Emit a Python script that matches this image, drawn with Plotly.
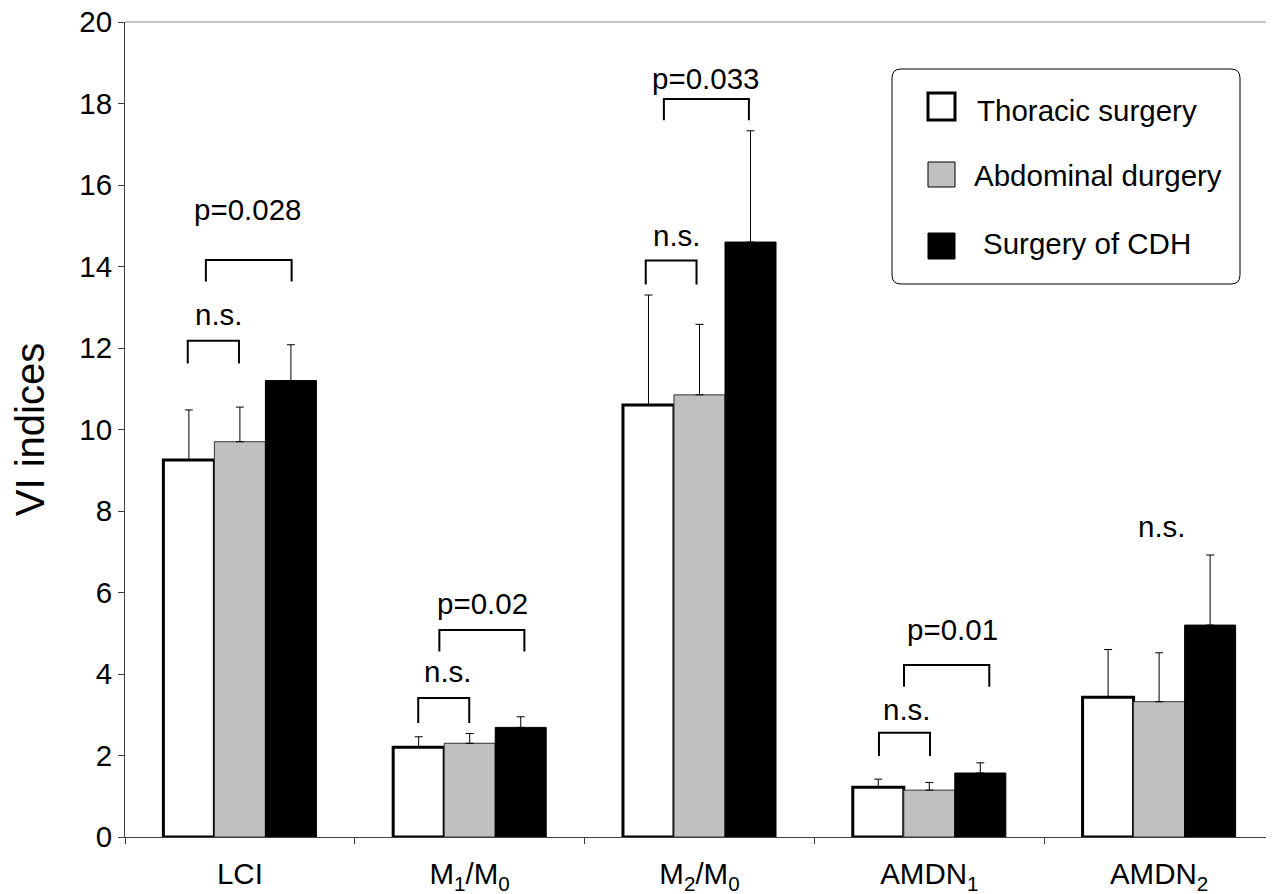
import plotly.graph_objects as go

# ---------------- data ----------------
categories = ["LCI", "M<sub>1</sub>/M<sub>0</sub>", "M<sub>2</sub>/M<sub>0</sub>",
              "AMDN<sub>1</sub>", "AMDN<sub>2</sub>"]
series_names = ["Thoracic surgery", "Abdominal durgery", "Surgery of CDH"]

thoracic_mean = [9.25, 2.20, 10.60, 1.22, 3.43]
thoracic_err = [1.23, 0.26, 2.70, 0.20, 1.17]
abdominal_mean = [9.70, 2.30, 10.85, 1.15, 3.32]
abdominal_err = [0.85, 0.24, 1.73, 0.19, 1.20]
cdh_mean = [11.20, 2.69, 14.60, 1.57, 5.20]
cdh_err = [0.88, 0.26, 2.73, 0.25, 1.72]

# significance brackets (x in category-index units, y in data units)
bracket_x0 = [-0.227, -0.148, 0.776, 0.868, 1.766, 1.845, 2.781, 2.890]
bracket_x1 = [-0.004, 0.225, 0.998, 1.238, 1.987, 2.215, 3.003, 3.261]
bracket_top = [12.18, 14.16, 3.41, 5.08, 14.15, 18.11, 2.56, 4.22]
bracket_bottom = [11.62, 13.63, 2.80, 4.55, 13.56, 17.59, 1.99, 3.69]

label_text = ["n.s.", "p=0.028", "n.s.", "p=0.02", "n.s.", "p=0.033", "n.s.", "p=0.01", "n.s."]
label_x = [-0.091, 0.035, 0.906, 1.054, 1.902, 2.028, 2.902, 3.103, 4.013]
label_y = [12.81, 15.40, 4.06, 5.73, 14.77, 18.62, 3.12, 5.08, 7.61]

y_ticks = [0, 2, 4, 6, 8, 10, 12, 14, 16, 18, 20]

FONT = "Liberation Sans, Arial, sans-serif"
FS = 29.5
OFF = 8  # page body margin
W, H = 1266, 886
ML, MR, MT, MB = 117, 0, 14, 57

x_pos = list(range(len(categories)))
fig = go.Figure()

styles = [
    dict(color="white", line=dict(color="black", width=3)),
    dict(color="#c0c0c0", line=dict(color="#333333", width=1)),
    dict(color="black", line=dict(color="black", width=1)),
]
means = [thoracic_mean, abdominal_mean, cdh_mean]
errs = [thoracic_err, abdominal_err, cdh_err]
for name, m, e, st in zip(series_names, means, errs, styles):
    fig.add_trace(go.Bar(
        x=x_pos, y=m, name=name, marker=st, showlegend=False,
        error_y=dict(type="data", symmetric=False, array=e, arrayminus=[0] * len(e),
                     color="black", thickness=1, width=4),
    ))

# brackets
bx, by = [], []
for x0, x1, yt, yb in zip(bracket_x0, bracket_x1, bracket_top, bracket_bottom):
    bx += [x0, x0, x1, x1, None]
    by += [yb, yt, yt, yb, None]
fig.add_trace(go.Scatter(x=bx, y=by, mode="lines", line=dict(color="black", width=2),
                         showlegend=False, hoverinfo="skip"))
for t, x, y in zip(label_text, label_x, label_y):
    fig.add_annotation(x=x, y=y, xref="x", yref="y", text=t, showarrow=False,
                       xanchor="center", yanchor="middle",
                       font=dict(family=FONT, size=FS, color="black"))

fig.update_layout(
    width=W, height=H,
    margin=dict(l=ML, r=MR, t=MT, b=MB),
    paper_bgcolor="white", plot_bgcolor="white",
    barmode="group", bargap=0.334, bargroupgap=0,
    font=dict(family=FONT, size=FS, color="black"),
    showlegend=False,
    xaxis=dict(range=[-0.5, 4.5], tickmode="array", tickvals=x_pos, ticktext=categories,
               ticks="", showgrid=False, zeroline=False, showline=True, automargin=False,
               linecolor="#404040", linewidth=1, ticklabelstandoff=11,
               ticklabeloverflow="allow",
               tickfont=dict(family=FONT, size=FS, color="black"),
               minor=dict(tickmode="array", tickvals=[i - 0.5 for i in range(len(categories) + 1)],
                          ticks="outside", ticklen=6, tickcolor="#404040", tickwidth=1,
                          showgrid=False)),
    yaxis=dict(range=[0, 20], tickmode="array", tickvals=y_ticks, ticks="outside",
               ticklen=6, tickcolor="#404040", showgrid=False, zeroline=False,
               showline=True, linecolor="#404040", linewidth=1, automargin=False,
               ticklabeloverflow="allow",
               tickfont=dict(family=FONT, size=FS, color="black"),
               title=dict(text="VI indices", font=dict(family=FONT, size=40, color="black"),
                          standoff=36)),
)

# top / right frame
fig.add_shape(type="line", xref="paper", yref="paper", x0=0, x1=1, y0=1, y1=1,
              line=dict(color="#888888", width=1))
fig.add_shape(type="line", xref="paper", yref="paper", x0=1, x1=1, y0=0, y1=1,
              line=dict(color="#bbbbbb", width=1))

# manual legend (rounded box), positions given in screenshot pixels
pw, ph = W - ML - MR, H - MT - MB
def px2paper(px, py):
    return (px - OFF - ML) / pw, (H - MB - (py - OFF)) / ph

bx0, by0 = px2paper(892, 284)
bx1, by1 = px2paper(1240, 69)
rx, ry = 9 / pw, 9 / ph
path = (f"M{bx0+rx},{by0} L{bx1-rx},{by0} Q{bx1},{by0} {bx1},{by0+ry} "
        f"L{bx1},{by1-ry} Q{bx1},{by1} {bx1-rx},{by1} L{bx0+rx},{by1} "
        f"Q{bx0},{by1} {bx0},{by1-ry} L{bx0},{by0+ry} Q{bx0},{by0} {bx0+rx},{by0} Z")
fig.add_shape(type="path", xref="paper", yref="paper", path=path,
              line=dict(color="black", width=1), fillcolor="white", layer="above")

legend_rows = [(93, 120, 975, 110), (162, 187, 972, 175), (233, 259, 981, 243)]
for (t, b, tx, ty), name, st in zip(legend_rows, series_names, styles):
    sx0, sy0 = px2paper(928, b)
    sx1, sy1 = px2paper(955, t)
    lw = 3 if st["color"] == "white" else 1
    fig.add_shape(type="rect", xref="paper", yref="paper", x0=sx0, x1=sx1, y0=sy0, y1=sy1,
                  fillcolor=st["color"], line=dict(color="black", width=lw), layer="above")
    ax, ay = px2paper(tx, ty)
    fig.add_annotation(x=ax, y=ay, xref="paper", yref="paper", text=name, showarrow=False,
                       xanchor="left", yanchor="middle",
                       font=dict(family=FONT, size=FS, color="black"))

fig.write_html("out.html")
